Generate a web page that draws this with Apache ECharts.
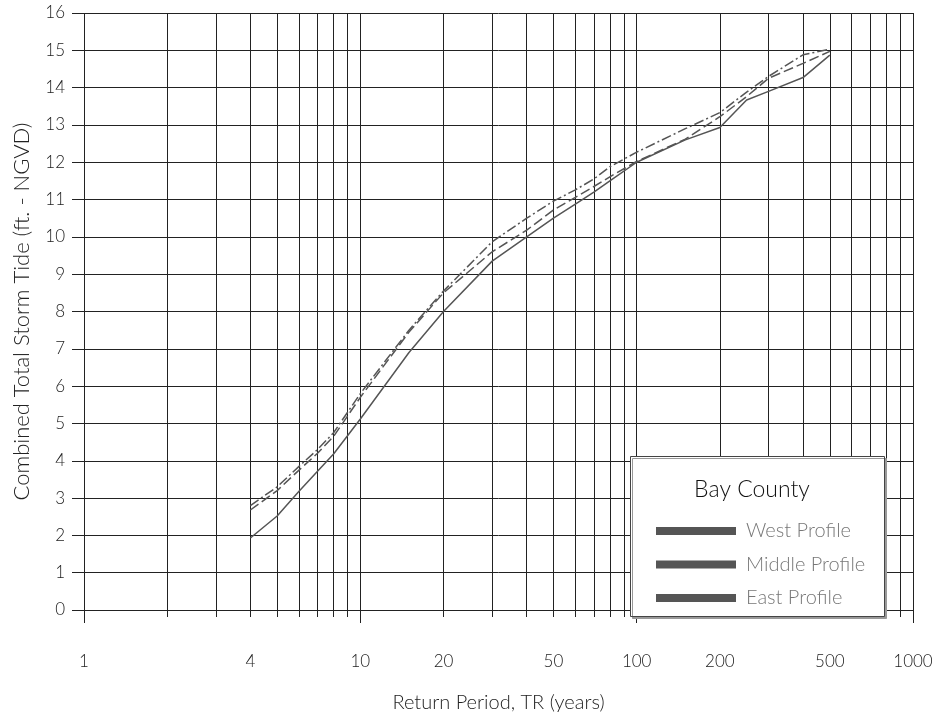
<!DOCTYPE html>
<html>
<head>
<meta charset="utf-8">
<script src="https://cdn.jsdelivr.net/npm/echarts@6/dist/echarts.min.js"></script>
<style>
html,body{margin:0;padding:0;background:#fff;}
#chart{width:940px;height:719px;}
</style>
</head>
<body>
<div id="chart"></div>
<script>
// Return periods (years)
const periods = [4, 5, 6, 7, 8, 10, 15, 20, 30, 40, 50, 60, 70, 80, 100, 150, 200, 250, 300, 400, 500];
// Combined total storm tide (ft. - NGVD)
const westProfile   = [1.93, 2.52, 3.18, 3.72, 4.18, 5.12, 6.9, 8.0, 9.35, 10.0, 10.5, 10.88, 11.2, 11.5, 12.0, 12.6, 12.93, 13.67, 13.9, 14.27, 14.87];
const middleProfile = [2.68, 3.2, 3.75, 4.2, 4.65, 5.7, 7.45, 8.5, 9.6, 10.18, 10.72, 11.06, 11.35, 11.61, 12.02, 12.62, 13.22, 13.76, 14.25, 14.65, 14.97];
const eastProfile   = [2.8, 3.3, 3.85, 4.3, 4.75, 5.8, 7.5, 8.55, 9.87, 10.5, 10.96, 11.26, 11.55, 11.88, 12.27, 12.9, 13.33, 13.88, 14.3, 14.88, 15.03];
const seriesNames = ['West Profile', 'Middle Profile', 'East Profile'];
// Axis ticks
const gridPeriods = [1,2,3,4,5,6,7,8,9,10,20,30,40,50,60,70,80,90,100,200,300,400,500,600,700,800,900,1000];
const majorPeriods = [1, 10, 100, 1000];
const xLabelValues = [1, 4, 10, 20, 50, 100, 200, 500, 1000];
const legendTitle = 'Bay County';

const FONT = 'Lato, "Open Sans", sans-serif';
const W = 300;
const pairs = (vals) => periods.map((p, i) => [p, vals[i]]);

const chart = echarts.init(document.getElementById('chart'), null, {renderer: 'canvas'});
chart.setOption({
  animation: false,
  backgroundColor: '#fff',
  textStyle: {fontFamily: FONT, fontWeight: W},
  grid: {left: 84, right: 27, top: 13, bottom: 109, containLabel: false},
  xAxis: [{
    type: 'log', logBase: 10, min: 1, max: 1000,
    name: 'Return Period, TR (years)', nameLocation: 'middle', nameGap: 83,
    nameTextStyle: {fontSize: 20, color: '#222', fontFamily: FONT, fontWeight: W},
    axisLine: {show: true, lineStyle: {color: '#222', width: 1}},
    axisTick: {show: true, length: 7, customValues: gridPeriods, lineStyle: {color: '#222'}},
    minorTick: {show: false},
    splitLine: {show: true, lineStyle: {color: '#222', width: 1}},
    axisLabel: {show: true, customValues: xLabelValues, margin: 43, fontSize: 17, color: '#222', fontFamily: FONT, fontWeight: W,
      formatter: (v) => String(v)}
  }, {
    type: 'log', logBase: 10, min: 1, max: 1000, position: 'bottom',
    axisLine: {show: false},
    axisTick: {show: true, length: 13, customValues: majorPeriods, lineStyle: {color: '#222'}},
    splitLine: {show: false},
    axisLabel: {show: false}
  }],
  yAxis: {
    type: 'value', min: 0, max: 16, interval: 1,
    name: 'Combined Total Storm Tide (ft. - NGVD)', nameLocation: 'middle', nameGap: 51,
    nameTextStyle: {fontSize: 22, color: '#222', fontFamily: FONT, fontWeight: W},
    axisLine: {show: false},
    axisTick: {show: true, length: 12, lineStyle: {color: '#222'}},
    splitLine: {show: true, lineStyle: {color: '#222', width: 1}},
    axisLabel: {margin: 19, fontSize: 17, color: '#222', fontFamily: FONT, fontWeight: W}
  },
  legend: {
    orient: 'vertical', left: 656, top: 520, padding: 0, z: 20,
    itemWidth: 80, itemHeight: 8, itemGap: 11.5, icon: 'rect',
    data: seriesNames,
    textStyle: {fontSize: 20, color: '#777', fontFamily: FONT, fontWeight: W, lineHeight: 22, padding: [0, 0, 0, 5]}
  },
  graphic: [{
    type: 'rect', z: 10,
    shape: {x: 630.5, y: 456.5, width: 254, height: 160},
    style: {fill: '#fff', stroke: '#444', lineWidth: 1, shadowColor: '#999', shadowOffsetX: 2, shadowOffsetY: 2, shadowBlur: 0}
  }, {
    type: 'text', z: 20, x: 752, y: 490,
    style: {text: legendTitle, fontSize: 23, fill: '#111', fontFamily: FONT, fontWeight: W, textAlign: 'center', textVerticalAlign: 'middle'}
  }],
  series: [{
    name: seriesNames[0], type: 'line', data: pairs(westProfile), symbol: 'none', smooth: false,
    color: '#555', lineStyle: {color: '#555', width: 1.5, type: 'solid'}
  }, {
    name: seriesNames[1], type: 'line', data: pairs(middleProfile), symbol: 'none', smooth: false,
    color: '#555', lineStyle: {color: '#555', width: 1.5, type: [10, 4]}
  }, {
    name: seriesNames[2], type: 'line', data: pairs(eastProfile), symbol: 'none', smooth: false,
    color: '#555', lineStyle: {color: '#555', width: 1.5, type: [10, 3, 2, 3]}
  }]
});
</script>
</body>
</html>
